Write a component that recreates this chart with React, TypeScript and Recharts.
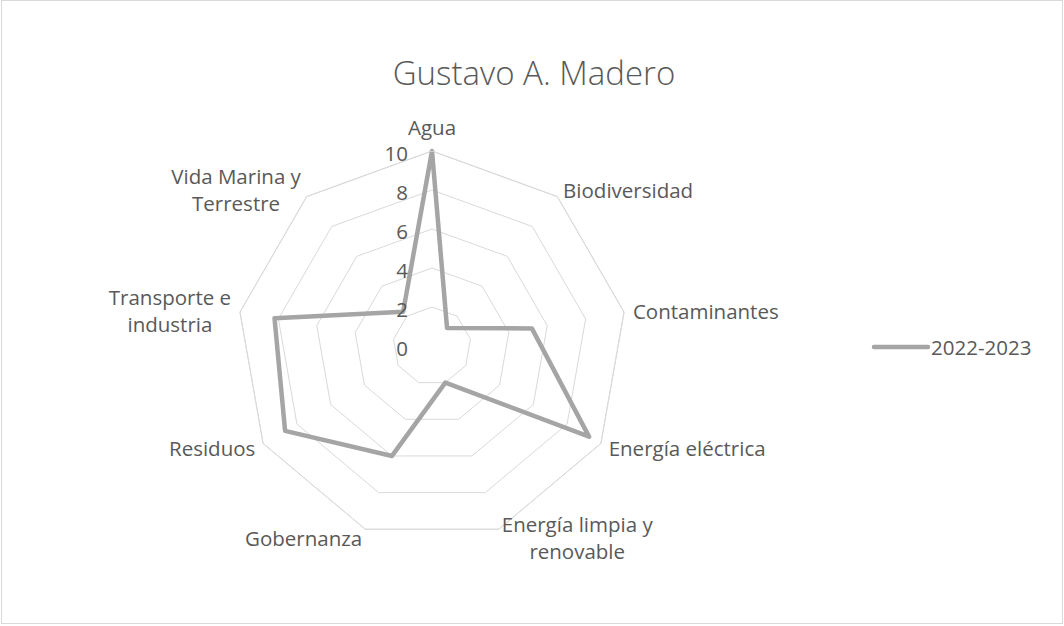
import React from "react";
import { RadarChart, Radar, PolarGrid, PolarAngleAxis, PolarRadiusAxis, Legend } from "recharts";

// data
const categories = [
  "Agua",
  "Biodiversidad",
  "Contaminantes",
  "Energía eléctrica",
  "Energía limpia y renovable",
  "Gobernanza",
  "Residuos",
  "Transporte e industria",
  "Vida Marina y Terrestre",
];
const values2022 = [10, 1.2, 5.2, 9.3, 2, 6, 8.7, 8.2, 2.3];
const radiusTicks = [0, 2, 4, 6, 8, 10];
const seriesName = "2022-2023";
const chartTitle = "Gustavo A. Madero";

const data = categories.map((c, i) => ({ category: c, v: values2022[i] }));

const CX = 432;
const CY = 346;
const OUTER = 195;
const FONT = '"Open Sans", "Noto Sans", sans-serif';
const FS = 20.5;
const TEXT = "#595959";
const LINE = "#a5a5a5";
const GRID = "#d9d9d9";

let ctx: CanvasRenderingContext2D | null = null;
function measure(s: string) {
  if (!ctx) ctx = document.createElement("canvas").getContext("2d");
  if (!ctx) return s.length * FS * 0.5;
  ctx.font = `${FS}px ${FONT}`;
  return ctx.measureText(s).width;
}

// excel-ish wrapping: long labels break before the last word
function wrap(s: string): string[] {
  if (s.length <= 18) return [s];
  const words = s.split(" ");
  const last = words.pop() as string;
  return [words.join(" "), last];
}

function AngleTick(props: any) {
  const { payload } = props;
  const ang = (payload.coordinate * Math.PI) / 180;
  const cos = Math.cos(ang);
  const sin = Math.sin(ang);
  const r = OUTER + 9;
  const ax = CX + r * cos;
  const ay = CY - r * sin;
  const lines = wrap(String(payload.value));
  const lh = 27;
  const bw = Math.max(...lines.map(measure));
  let bx = ax;
  if (Math.abs(cos) >= 0.1) bx = cos > 0 ? ax + bw / 2 : ax - bw / 2;
  const by = sin > 0.9 ? ay - 15 : ay;
  return (
    <g>
      {lines.map((ln, i) => (
        <text
          key={i}
          x={bx}
          y={by + (i - (lines.length - 1) / 2) * lh}
          textAnchor="middle"
          dominantBaseline="central"
          fill={TEXT}
          fontSize={FS}
          fontFamily={FONT}
        >
          {ln}
        </text>
      ))}
    </g>
  );
}

function RadiusTick(props: any) {
  const { x, y, payload } = props;
  return (
    <text
      x={x - 24}
      y={y + 2}
      textAnchor="end"
      dominantBaseline="central"
      fill={TEXT}
      fontSize={FS}
      fontFamily={FONT}
    >
      {payload.value}
    </text>
  );
}

function LegendBox() {
  return (
    <div style={{ display: "flex", alignItems: "center", fontFamily: FONT, fontSize: FS, color: TEXT }}>
      <svg width={60} height={10}>
        <line x1={3} y1={5} x2={57} y2={5} stroke={LINE} strokeWidth={4.5} strokeLinecap="round" />
      </svg>
      <span style={{ marginLeft: 0 }}>{seriesName}</span>
    </div>
  );
}

export default function App() {
  return (
    <div style={{ position: "absolute", left: 0, top: 0, width: 1064, height: 626, background: "#fff" }}>
      <div
        style={{
          position: "absolute",
          left: 1,
          top: 0,
          width: 1060,
          height: 622,
          border: `1px solid ${GRID}`,
        }}
      />
      <div
        style={{
          position: "absolute",
          left: 0,
          width: 1064,
          top: 50,
          textAlign: "center",
          fontFamily: FONT,
          fontSize: 33,
          fontWeight: 300,
          color: TEXT,
          paddingLeft: 2,
        }}
      >
        {chartTitle}
      </div>
      <div style={{ position: "absolute", left: 0, top: 0 }}>
        <RadarChart width={1064} height={626} data={data} cx={CX} cy={CY} outerRadius={OUTER} startAngle={90} endAngle={-270}>
          <PolarGrid gridType="polygon" radialLines={false} stroke={GRID} strokeWidth={1} />
          <PolarAngleAxis dataKey="category" tick={<AngleTick />} tickLine={false} axisLine={{ stroke: GRID }} />
          <PolarRadiusAxis
            angle={90}
            domain={[0, 10]}
            ticks={radiusTicks as any}
            tickCount={6}
            axisLine={false}
            tickLine={false}
            tick={<RadiusTick />}
          />
          <Radar
            name={seriesName}
            dataKey="v"
            stroke={LINE}
            strokeWidth={4.5}
            strokeLinejoin="round"
            fill="none"
            fillOpacity={0}
            dot={false}
            isAnimationActive={false}
          />
          <Legend
            content={<LegendBox />}
            wrapperStyle={{ position: "absolute", left: 871, top: 333, width: 180 }}
          />
        </RadarChart>
      </div>
    </div>
  );
}
